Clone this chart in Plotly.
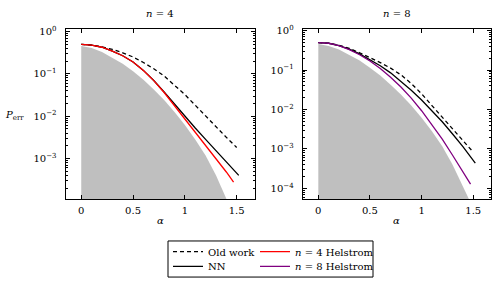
import plotly.graph_objects as go

# ---------------- data ----------------
alpha = [0.0, 0.1, 0.2, 0.3, 0.4, 0.5, 0.6, 0.7, 0.8, 0.9, 1.0, 1.1, 1.2, 1.3, 1.4, 1.5]

# shaded bound (both panels)
bound_p = [0.457, 0.407, 0.331, 0.245, 0.174, 0.115, 0.0724, 0.0427, 0.0240, 0.0126,
           0.00617, 0.00282, 0.00117, 3.98e-4, 1.12e-4, 3.16e-5]

# n = 4 panel
old4_alpha = alpha
old4_p = [0.5, 0.479, 0.437, 0.380, 0.316, 0.251, 0.186, 0.132, 0.0891, 0.0550,
          0.0324, 0.0182, 0.0100, 0.00562, 0.00316, 0.00182]
nn4_alpha = [0.0, 0.1, 0.2, 0.3, 0.4, 0.5, 0.6, 0.7, 0.8, 0.9, 1.0, 1.1, 1.2, 1.3, 1.4, 1.52]
nn4_p = [0.5, 0.479, 0.427, 0.347, 0.269, 0.191, 0.121, 0.0700, 0.0372, 0.0191,
         0.0100, 0.00525, 0.00282, 0.00151, 8.13e-4, 3.98e-4]
hel4_alpha = [0.0, 0.1, 0.2, 0.3, 0.4, 0.5, 0.6, 0.7, 0.8, 0.9, 1.0, 1.1, 1.2, 1.3, 1.4, 1.47]
hel4_p = [0.5, 0.479, 0.427, 0.347, 0.269, 0.191, 0.120, 0.0692, 0.0363, 0.0178,
          0.00871, 0.00427, 0.00209, 0.00100, 4.79e-4, 2.75e-4]

# n = 8 panel
old8_alpha = [0.0, 0.1, 0.2, 0.3, 0.4, 0.5, 0.6, 0.7, 0.8, 0.9, 1.0, 1.1, 1.2, 1.3, 1.4, 1.49]
old8_p = [0.5, 0.479, 0.427, 0.355, 0.275, 0.209, 0.155, 0.112, 0.0759, 0.0457,
          0.0251, 0.0126, 0.00631, 0.00316, 0.00162, 8.9e-4]
nn8_alpha = [0.0, 0.1, 0.2, 0.3, 0.4, 0.5, 0.6, 0.7, 0.8, 0.9, 1.0, 1.1, 1.2, 1.3, 1.4, 1.52]
nn8_p = [0.5, 0.479, 0.417, 0.339, 0.257, 0.186, 0.129, 0.0851, 0.0525, 0.0309,
         0.0174, 0.00933, 0.00490, 0.00240, 0.00115, 4.37e-4]
hel8_alpha = [0.0, 0.1, 0.2, 0.3, 0.4, 0.5, 0.6, 0.7, 0.8, 0.9, 1.0, 1.1, 1.2, 1.3, 1.4, 1.474]
hel8_p = [0.5, 0.479, 0.417, 0.331, 0.245, 0.170, 0.110, 0.0661, 0.0372, 0.0195,
          0.00933, 0.00417, 0.00178, 6.92e-4, 2.63e-4, 1.29e-4]

titles = ["<i>n</i> = 4", "<i>n</i> = 8"]
x_ticks = [0, 0.5, 1, 1.5]
x_ticktext = ["0", "0.5", "1", "1.5"]
y_major = [1, 0.1, 0.01, 0.001, 0.0001]
y_ticktext = ["10<sup>0</sup>", "10<sup>−1</sup>", "10<sup>−2</sup>", "10<sup>−3</sup>", "10<sup>−4</sup>"]
y_minor = [m * 10.0 ** e for e in range(-5, 1) for m in range(2, 10)]

# ---------------- layout constants ----------------
W, H = 493, 281
FONT = "DejaVu Serif"
FS = 10
GRAY = "#bfbfbf"
RED = "#ff0000"
PURPLE = "#800080"

def px(x):
    return x / W

def py(y):
    return 1 - y / H

fig = go.Figure()

def add_panel(xa, ya, old_a, old_p, nn_a, nn_p, hel_a, hel_p, hel_color, hel_name,
              first, hel_legend):
    fig.add_trace(go.Scatter(x=alpha, y=bound_p, xaxis=xa, yaxis=ya, mode="lines",
                             line=dict(width=0, color=GRAY), fill="tozeroy",
                             fillcolor=GRAY, showlegend=False, hoverinfo="skip"))
    fig.add_trace(go.Scatter(x=old_a, y=old_p, xaxis=xa, yaxis=ya, mode="lines",
                             line=dict(color="black", width=1.3, dash="4px,3px"),
                             name="Old work", showlegend=first, legend="legend"))
    fig.add_trace(go.Scatter(x=nn_a, y=nn_p, xaxis=xa, yaxis=ya, mode="lines",
                             line=dict(color="black", width=1.3),
                             name="NN", showlegend=first, legend="legend2"))
    fig.add_trace(go.Scatter(x=hel_a, y=hel_p, xaxis=xa, yaxis=ya, mode="lines",
                             line=dict(color=hel_color, width=1.3),
                             name=hel_name, showlegend=True, legend=hel_legend))

add_panel("x", "y", old4_alpha, old4_p, nn4_alpha, nn4_p, hel4_alpha, hel4_p,
          RED, "<i>n</i> = 4 Helstrom", True, "legend3")
add_panel("x2", "y2", old8_alpha, old8_p, nn8_alpha, nn8_p, hel8_alpha, hel8_p,
          PURPLE, "<i>n</i> = 8 Helstrom", False, "legend4")

common_x = dict(range=[-0.152, 1.672], tickvals=x_ticks, ticktext=x_ticktext,
                ticks="inside", ticklen=4, tickwidth=0.8, tickcolor="black",
                showline=True, linecolor="black", linewidth=1, mirror="allticks",
                showgrid=False, zeroline=False, ticklabelstandoff=2,
                tickfont=dict(family=FONT, size=FS, color="black"))

def yaxis(rng):
    return dict(type="log", range=rng, tickvals=y_major, ticktext=y_ticktext,
                ticks="inside", ticklen=4, tickwidth=0.8, tickcolor="black",
                minor=dict(tickvals=y_minor, ticks="inside", ticklen=2, tickwidth=0.6,
                           tickcolor="black", showgrid=False),
                showline=True, linecolor="black", linewidth=1, mirror="allticks",
                showgrid=False, zeroline=False, ticklabelstandoff=6,
                tickfont=dict(family=FONT, size=FS, color="black"))

ydom = [py(199), py(24.7)]

def ann(text, x, y):
    return dict(text=text, x=px(x), y=py(y), xref="paper", yref="paper",
                xanchor="center", yanchor="middle", showarrow=False,
                font=dict(family=FONT, size=FS, color="black"))

def leg(x, y):
    return dict(orientation="h", x=px(x), y=py(y), xanchor="left", yanchor="middle",
                itemwidth=30, bgcolor="rgba(0,0,0,0)", borderwidth=0,
                font=dict(family=FONT, size=FS, color="black"))

fig.update_layout(
    width=W, height=H,
    margin=dict(l=0, r=0, t=0, b=0),
    paper_bgcolor="white", plot_bgcolor="white",
    font=dict(family=FONT, size=FS, color="black"),
    xaxis=dict(domain=[px(65.5), px(254.5)], anchor="y", **common_x),
    yaxis=dict(domain=ydom, anchor="x", **yaxis([-3.96, 0.06])),
    xaxis2=dict(domain=[px(302.6), px(491.0)], anchor="y2", **common_x),
    yaxis2=dict(domain=ydom, anchor="x2", **yaxis([-4.27, 0.04])),
    legend=leg(168, 253),
    legend2=leg(168, 268),
    legend3=leg(255, 253),
    legend4=leg(255, 268),
    shapes=[dict(type="rect", xref="paper", yref="paper",
                 x0=px(168), x1=px(373), y0=py(279), y1=py(242),
                 line=dict(color="black", width=1))],
    annotations=[
        ann(titles[0], 160, 9),
        ann(titles[1], 396.8, 9),
        ann("<i>α</i>", 160, 221),
        ann("<i>α</i>", 396.8, 221),
        ann("<i>P</i><sub>err</sub>", 14, 113),
    ],
)

fig.write_html("out.html", config={"displayModeBar": False},
               post_script="document.body.style.margin='0';")
